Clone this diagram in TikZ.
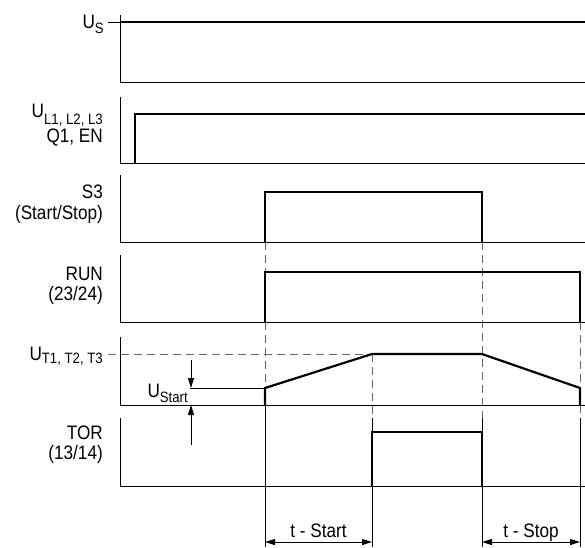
\documentclass[tikz,border=0pt]{standalone}
\usepackage{fontspec}
\setmainfont{Liberation Sans}[FakeStretch=0.88]
\usetikzlibrary{arrows.meta}
\newcommand{\lowsub}[2]{\raisebox{-#1}{\fontsize{15}{15}\selectfont #2}}
\begin{document}
\begin{tikzpicture}[x=1pt,y=-1pt,
  thinline/.style={line width=1pt,black},
  sigline/.style={line width=2.2pt,black,line join=miter},
  guide/.style={line width=1pt,black!60,dash pattern=on 8pt off 5pt},
  lbl/.style={font=\fontsize{19.5}{21}\selectfont,inner sep=0pt,anchor=base east},
  tlbl/.style={font=\fontsize{19.5}{21}\selectfont,inner sep=0pt,anchor=base},
  tip/.style={-{Triangle[length=10pt,width=6pt]}},
  both/.style={{Triangle[length=10pt,width=6pt]}-{Triangle[length=10pt,width=6pt]}}]
\useasboundingbox (0,0) rectangle (585,547);

% guides
\draw[guide] (265,242) -- (265,272);
\draw[guide] (265,322) -- (265,388);
\draw[thinline] (265,405) -- (265,547);
\draw[guide] (372,354) -- (372,418);
\draw[thinline] (372,418) -- (372,432);
\draw[thinline] (372,486) -- (372,547);
\draw[guide] (482,242) -- (482,418);
\draw[thinline] (482,418) -- (482,432);
\draw[thinline] (482,486) -- (482,547);
\draw[guide] (580,322) -- (580,388);
\draw[guide] (580,405) -- (580,418);
\draw[thinline] (580,418) -- (580,547);

% panel 1: Us
\draw[thinline] (120,15) |- (585,82);
\draw[thinline] (108,22) -- (120,22);
\draw[sigline] (120,22) -- (585,22);
\node[lbl] (us) at (104,28) {U\lowsub{5pt}{S}};

% panel 2
\draw[thinline] (120,97) |- (585,163);
\draw[sigline] (135,163) -- (135,114) -- (585,114);
\node[lbl] (ul) at (103,117) {U\lowsub{7pt}{L1, L2, L3}};
\node[lbl] (q1) at (103,142) {Q1, EN};

% panel 3
\draw[thinline] (120,175) |- (585,242);
\draw[sigline] (265,242) -- (265,192) -- (482,192) -- (482,242);
\node[lbl] (s3) at (103,198) {S3};
\node[lbl] (s3b) at (103,219) {(Start/Stop)};

% panel 4
\draw[thinline] (120,255) |- (585,322);
\draw[sigline] (265,322) -- (265,272) -- (580,272) -- (580,322);
\node[lbl] (run) at (103,280) {RUN};
\node[lbl] (runb) at (103,300) {(23/24)};

% panel 5
\draw[thinline] (120,337) |- (585,405);
\draw[guide] (108,354) -- (372,354);
\draw[thinline] (190,388) -- (265,388);
\draw[sigline] (265,405) -- (265,388) -- (372,354) -- (482,354) -- (580,388) -- (580,405);
\node[lbl] (ut) at (103,360) {U\lowsub{3pt}{T1, T2, T3}};
\node[lbl] (ust) at (188,397) {U\lowsub{5pt}{Start}};
\coordinate (a1) at (191,360);
\coordinate (a1e) at (191,388);
\coordinate (a2) at (191,445);
\coordinate (a2e) at (191,405);
\draw[thinline,tip] (a1) -- (a1e);
\draw[thinline,tip] (a2) -- (a2e);

% panel 6
\draw[thinline] (120,418) |- (585,486);
\draw[sigline] (372,486) -- (372,432) -- (482,432) -- (482,486);
\node[lbl] (tor) at (103,439) {TOR};
\node[lbl] (torb) at (103,459) {(13/14)};

% time arrows
\coordinate (ts1) at (265,542);
\coordinate (ts2) at (372,542);
\coordinate (tp1) at (482,542);
\coordinate (tp2) at (580,542);
\draw[thinline,both] (ts1) -- (ts2);
\draw[thinline,both] (tp1) -- (tp2);
\node[tlbl] (tst) at (318.5,537) {t - Start};
\node[tlbl] (tsp) at (531,537) {t - Stop};
\end{tikzpicture}
\end{document}
